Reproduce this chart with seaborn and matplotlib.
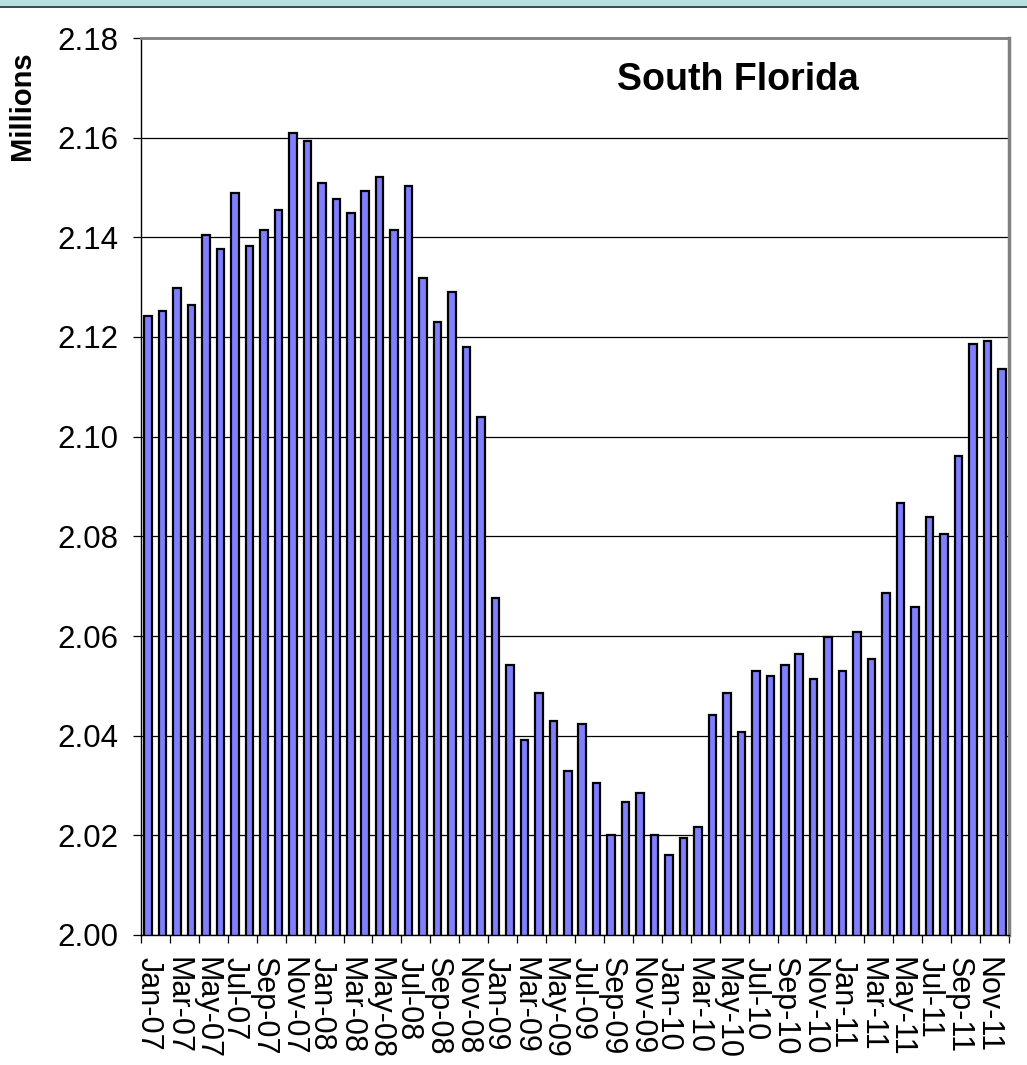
"""
Bar chart: South Florida (millions), monthly Jan-07 .. Dec-11.
"""

import numpy as np
import pandas as pd
import matplotlib
matplotlib.use('Agg')
import matplotlib.pyplot as plt
import seaborn as sns
from matplotlib.patches import Rectangle
from matplotlib.lines import Line2D

# Dados
meses = list(pd.date_range('2007-01-01', periods=60, freq='MS').strftime('%b-%y'))

valores = [
    2.1242, 2.1252, 2.1298, 2.1264, 2.1404, 2.1376, 2.1488, 2.1382, 2.1414, 2.1454,
    2.1610, 2.1594, 2.1509, 2.1476, 2.1448, 2.1493, 2.1521, 2.1414, 2.1504, 2.1319,
    2.1230, 2.1291, 2.1179, 2.1039, 2.0676, 2.0541, 2.0391, 2.0485, 2.0429, 2.0329,
    2.0424, 2.0306, 2.0201, 2.0267, 2.0285, 2.0201, 2.0161, 2.0195, 2.0217, 2.0442,
    2.0485, 2.0407, 2.0530, 2.0520, 2.0542, 2.0564, 2.0514, 2.0598, 2.0530, 2.0609,
    2.0553, 2.0687, 2.0866, 2.0659, 2.0839, 2.0804, 2.0961, 2.1185, 2.1192, 2.1136,
]

yticks = [2.00, 2.02, 2.04, 2.06, 2.08, 2.10, 2.12, 2.14, 2.16, 2.18]

titulo = 'South Florida'
rotulo_y = 'Millions'

# Estilo
sns.set_style('white')
plt.rcParams['font.family'] = ['Liberation Sans', 'DejaVu Sans']
plt.rcParams['text.color'] = 'black'
plt.rcParams['xtick.color'] = 'black'
plt.rcParams['ytick.color'] = 'black'
plt.rcParams['axes.labelcolor'] = 'black'

fig = plt.figure(figsize=(10.27, 10.65), dpi=100)
ax = fig.add_axes([141 / 1027, 1 - 935 / 1065, 868 / 1027, 897 / 1065])

df = pd.DataFrame({'mes': meses, 'valor': valores})
sns.barplot(
    data=df, x='mes', y='valor', ax=ax,
    color='#8080FF', saturation=1, edgecolor='black',
    linewidth=1.6, width=0.52, errorbar=None
)

ax.set_ylim(2.00, 2.18)
ax.set_xlim(-0.5, len(meses) - 0.5)

# Grade horizontal
ax.set_axisbelow(True)
ax.yaxis.grid(True, color='black', linewidth=0.9)
ax.xaxis.grid(False)

# Eixo y
ax.set_yticks(yticks)
ax.set_yticklabels([f'{v:.2f}' for v in yticks])
ax.tick_params(axis='y', direction='out', length=6, width=0.9, pad=10,
               labelsize=22.5, left=True, color='black', labelcolor='black')

# Eixo x: rótulos a cada dois meses, marcas nos limites das categorias
pos = np.arange(0, len(meses), 2)
ax.set_xticks(pos)
ax.set_xticklabels(meses[::2], rotation=270, ha='center', va='top')
ax.set_xticks(np.arange(-0.5, len(meses), 2), minor=True)
ax.tick_params(axis='x', which='major', length=0, pad=16, labelsize=22,
               labelcolor='black')
ax.tick_params(axis='x', which='minor', direction='out', length=6,
               width=0.9, bottom=True, color='black')

ax.set_xlabel('')
ax.set_ylabel('')

# Bordas
ax.spines['left'].set_color('black')
ax.spines['left'].set_linewidth(1.0)
ax.spines['bottom'].set_color('black')
ax.spines['bottom'].set_linewidth(1.0)
ax.spines['top'].set_color('#808080')
ax.spines['top'].set_linewidth(2.0)
ax.spines['right'].set_color('#808080')
ax.spines['right'].set_linewidth(2.5)

# Título dentro do gráfico
ax.text(0.688, 0.953, titulo, transform=ax.transAxes, ha='center', va='center',
        fontsize=27, fontweight='bold', color='black')

# Rótulo do eixo y
fig.text(22 / 1027, 1 - 106 / 1065, rotulo_y, rotation=90, ha='center', va='center',
         fontsize=21, fontweight='bold', color='black')

# Faixa azul clara no topo
fig.patches.append(Rectangle((0, 1 - 6 / 1065), 1, 6 / 1065, transform=fig.transFigure,
                             facecolor='#B8E0E3', edgecolor='none'))
fig.lines.append(Line2D([0, 1], [1 - 6.5 / 1065, 1 - 6.5 / 1065], transform=fig.transFigure,
                        color='#1E2A2A', linewidth=1.2))

fig.savefig('out.png', dpi=100, facecolor='white')
plt.close(fig)
